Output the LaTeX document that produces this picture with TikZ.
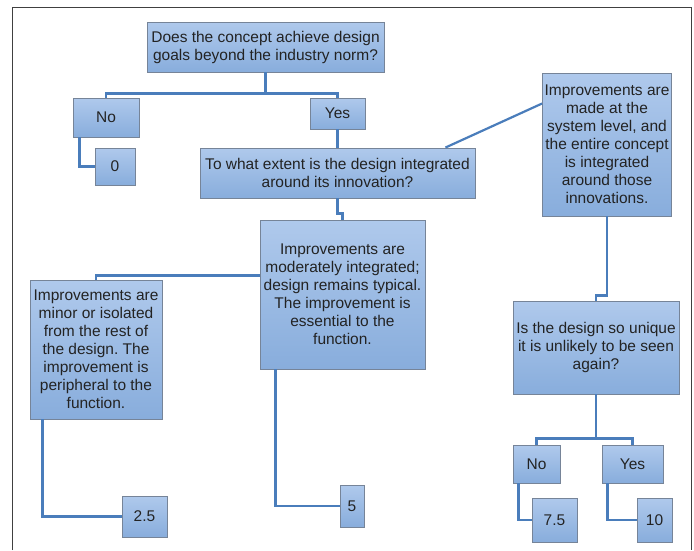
\documentclass[tikz,border=0pt]{standalone}
\usepackage{fontspec}
\setmainfont{Liberation Sans}
\usetikzlibrary{positioning}
\frenchspacing

\definecolor{linkblue}{RGB}{74,125,187}
\definecolor{boxtop}{RGB}{175,201,236}
\definecolor{boxbot}{RGB}{136,173,220}
\definecolor{boxedge}{RGB}{118,132,152}
\definecolor{inkgray}{RGB}{35,35,35}

\begin{document}
\begin{tikzpicture}
[x=1pt,y=-1pt,
block/.style = {rectangle, draw=boxedge, line width=0.9pt, top color=boxtop, bottom color=boxbot, text=inkgray, align=center, inner sep=2pt, font=\fontsize{15.5}{18}\selectfont},
line/.style  = {draw=linkblue, line width=2.2pt},
frame/.style = {draw=black!75, line width=1pt}
]

\useasboundingbox (0,0) rectangle (694,550);
\path[frame] (12,550) -- (12,7) -- (691,7) -- (691,550);

% first question
\node [block, minimum width=237pt, minimum height=50pt] (goal_q) at (265.5,47) {Does the concept achieve design\\goals beyond the industry norm?};
\node [block, minimum width=66pt, minimum height=39pt] (goal_no) at (106,117.5) {No};
\node [block, minimum width=55pt, minimum height=31pt] (goal_yes) at (337.5,113.5) {Yes};
\node [block, minimum width=40pt, minimum height=37pt] (score_0) at (115,166.5) {0};

% second question
\node [block, minimum width=275pt, minimum height=50pt] (extent_q) at (337.5,173) {To what extent is the design integrated\\around its innovation?};
\node [block, minimum width=128pt, minimum height=143pt] (system_lvl) at (607,144.5) {Improvements are\\made at the\\system level, and\\the entire concept\\is integrated\\around those\\innovations.};
\node [block, minimum width=165pt, minimum height=149pt] (moderate) at (342.5,294.5) {Improvements are\\moderately integrated;\\design remains typical.\\The improvement is\\essential to the\\function.};
\node [block, minimum width=132pt, minimum height=139pt] (minor) at (96,349.5) {Improvements are\\minor or isolated\\from the rest of\\the design. The\\improvement is\\peripheral to the\\function.};
\node [block, minimum width=45pt, minimum height=41pt] (score_2_5) at (144.5,516.5) {2.5};
\node [block, minimum width=24pt, minimum height=42pt] (score_5) at (352,506) {5};

% third question
\node [block, minimum width=166pt, minimum height=93pt] (unique_q) at (596,347.5) {Is the design so unique\\it is unlikely to be seen\\again?};
\node [block, minimum width=47pt, minimum height=38pt] (unique_no) at (536.5,464) {No};
\node [block, minimum width=61pt, minimum height=38pt] (unique_yes) at (632.5,464) {Yes};
\node [block, minimum width=45pt, minimum height=44pt] (score_7_5) at (554.5,520) {7.5};
\node [block, minimum width=35pt, minimum height=44pt] (score_10) at (654.5,520) {10};

\coordinate (goal_fork) at ([yshift=-21pt]goal_q.south);
\coordinate (unique_fork) at ([yshift=-44pt]unique_q.south);

\begin{scope}[every path/.style=line]
\path (goal_q.south) -- (goal_fork);
\path (goal_no.north) |- (goal_fork) -| (goal_yes.north);
\path ([xshift=7pt]goal_no.south west) |- (score_0.west);
\path (goal_yes.south) -- (extent_q.north);
\path ([xshift=-30pt]extent_q.north east) -- ([yshift=41pt]system_lvl.west);
\path (extent_q.south) -- ++(0,15) -| (moderate.north);
\path ([yshift=19pt]moderate.west) -| (minor.north);
\path ([xshift=13pt]minor.south west) |- (score_2_5.west);
\path ([xshift=16pt]moderate.south west) |- (score_5.west);
\path (system_lvl.south) -- ++(0,79) -| (unique_q.north);
\path (unique_q.south) -- (unique_fork);
\path (unique_no.north) |- (unique_fork) -| (unique_yes.north);
\path ([xshift=6pt]unique_no.south west) |- (score_7_5.west);
\path ([xshift=6pt]unique_yes.south west) |- (score_10.west);
\end{scope}

\end{tikzpicture}
\end{document}
